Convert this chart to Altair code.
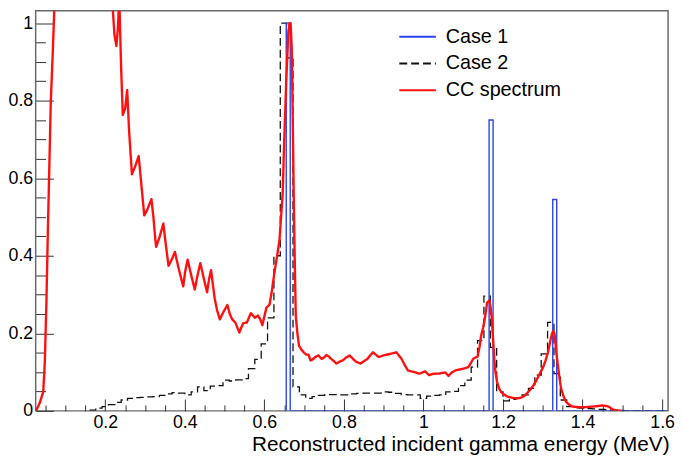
import altair as alt
import pandas as pd

FONT = "Liberation Sans"

series_names = ["Case 1", "Case 2", "CC spectrum"]
series_colors = ["#2a44ee", "#111111", "#ff1010"]
series_dash = [[1, 0], [8, 4], [1, 0]]

x_major_ticks = [0.2, 0.4, 0.6, 0.8, 1.0, 1.2, 1.4, 1.6]
x_minor_ticks = [0.05, 0.1, 0.15, 0.25, 0.3, 0.35, 0.45, 0.5, 0.55, 0.65, 0.7, 0.75,
                 0.85, 0.9, 0.95, 1.05, 1.1, 1.15, 1.25, 1.3, 1.35, 1.45, 1.5, 1.55]
y_major_ticks = [0, 0.2, 0.4, 0.6, 0.8, 1.0]
y_minor_ticks = [0.05, 0.1, 0.15, 0.25, 0.3, 0.35, 0.45, 0.5, 0.55, 0.65, 0.7, 0.75,
                 0.85, 0.9, 0.95]

# Case 1: narrow histogram bins (outline drawn as a step line)
case1_edges = [0.655, 0.655, 0.665, 1.165, 1.175, 1.325, 1.335, 1.615]
case1_values = [0.0, 1.0, 0.0, 0.75, 0.0, 0.545, 0.0, 0.0]

# Case 2: histogram with 0.016 MeV bins starting at 0.16 MeV
case2_first_edge = 0.16
case2_bin_width = 0.016
case2_values = [0.002, 0.007, 0.011, 0.016, 0.022, 0.028, 0.032, 0.034, 0.035, 0.036,
                0.037, 0.040, 0.044, 0.047, 0.046, 0.041, 0.049, 0.062, 0.052, 0.064,
                0.065, 0.079, 0.077, 0.080, 0.083, 0.109, 0.133, 0.173, 0.240, 0.400,
                1.000, 0.910, 0.062, 0.041, 0.032, 0.037, 0.040, 0.042, 0.042, 0.041,
                0.041, 0.044, 0.045, 0.046, 0.046, 0.046, 0.049, 0.048, 0.045, 0.042,
                0.041, 0.041, 0.032, 0.038, 0.040, 0.041, 0.049, 0.050, 0.065, 0.079,
                0.113, 0.181, 0.296, 0.164, 0.049, 0.026, 0.030, 0.033, 0.041, 0.058,
                0.092, 0.147, 0.228, 0.096, 0.028, 0.011, 0.008, 0.007, 0.006, 0.005,
                0.004, 0.003, 0.002, 0.001, 0.0]
case2_end = 1.615

# CC spectrum
cc_x = [0.026, 0.035, 0.044, 0.048, 0.052, 0.056, 0.060, 0.063, 0.068, 0.072, 0.078,
        0.210, 0.218, 0.223, 0.228, 0.232, 0.235, 0.240, 0.244, 0.250, 0.255, 0.260,
        0.267, 0.275, 0.284, 0.291, 0.298, 0.306, 0.316, 0.321, 0.326, 0.328, 0.337,
        0.346, 0.352, 0.359, 0.367, 0.375, 0.385, 0.396, 0.401, 0.407, 0.416, 0.425,
        0.432, 0.439, 0.448, 0.456, 0.461, 0.466, 0.470, 0.475, 0.481, 0.488, 0.497,
        0.507, 0.513, 0.519, 0.527, 0.537, 0.542, 0.547, 0.556, 0.566, 0.576, 0.584,
        0.590, 0.595, 0.605, 0.613, 0.619, 0.625, 0.632, 0.638, 0.642, 0.646, 0.650,
        0.655, 0.660, 0.663, 0.666, 0.669, 0.672, 0.674, 0.677, 0.679, 0.683, 0.687,
        0.693, 0.699, 0.705, 0.711, 0.716, 0.723, 0.728, 0.736, 0.744, 0.748, 0.756,
        0.762, 0.768, 0.775, 0.781, 0.789, 0.797, 0.805, 0.814, 0.822, 0.830, 0.842,
        0.850, 0.859, 0.866, 0.873, 0.880, 0.887, 0.894, 0.900, 0.908, 0.916, 0.924,
        0.932, 0.938, 0.945, 0.953, 0.961, 0.969, 0.977, 0.983, 0.990, 0.997, 1.004,
        1.009, 1.014, 1.022, 1.031, 1.039, 1.047, 1.055, 1.063, 1.070, 1.080, 1.092,
        1.104, 1.113, 1.120, 1.125, 1.130, 1.136, 1.141, 1.145, 1.150, 1.154, 1.160,
        1.166, 1.169, 1.172, 1.175, 1.178, 1.181, 1.185, 1.190, 1.195, 1.203, 1.211,
        1.222, 1.235, 1.245, 1.252, 1.260, 1.268, 1.276, 1.284, 1.292, 1.301, 1.307,
        1.313, 1.319, 1.323, 1.326, 1.329, 1.331, 1.334, 1.338, 1.342, 1.346, 1.352,
        1.358, 1.366, 1.375, 1.387, 1.399, 1.412, 1.424, 1.436, 1.448, 1.457, 1.465,
        1.471, 1.477, 1.488, 1.498]
cc_y = [0.0, 0.02, 0.049, 0.126, 0.279, 0.48, 0.66, 0.797, 0.924, 1.04, 1.2,
        1.2, 1.05, 0.97, 0.941, 0.99, 1.07, 0.88, 0.763, 0.78, 0.827, 0.72,
        0.610, 0.63, 0.657, 0.58, 0.504, 0.52, 0.546, 0.5, 0.44, 0.423, 0.45,
        0.483, 0.43, 0.374, 0.39, 0.41, 0.365, 0.321, 0.36, 0.39, 0.35, 0.313,
        0.35, 0.381, 0.34, 0.306, 0.34, 0.363, 0.33, 0.29, 0.26, 0.236, 0.255,
        0.273, 0.25, 0.236, 0.228, 0.202, 0.215, 0.226, 0.228, 0.252, 0.24, 0.246,
        0.235, 0.221, 0.266, 0.274, 0.31, 0.355, 0.40, 0.44, 0.50, 0.56, 0.70,
        0.85, 0.97, 1.0, 1.0, 0.93, 0.70, 0.54, 0.35, 0.245, 0.2, 0.168,
        0.158, 0.151, 0.145, 0.145, 0.130, 0.134, 0.139, 0.143, 0.134, 0.136, 0.144,
        0.14, 0.134, 0.128, 0.122, 0.127, 0.130, 0.137, 0.143, 0.135, 0.127, 0.122,
        0.128, 0.134, 0.143, 0.151, 0.145, 0.139, 0.141, 0.143, 0.145, 0.147, 0.149,
        0.151, 0.143, 0.134, 0.118, 0.104, 0.102, 0.100, 0.098, 0.096, 0.099, 0.102,
        0.097, 0.092, 0.095, 0.096, 0.096, 0.098, 0.099, 0.090, 0.098, 0.104, 0.107,
        0.110, 0.113, 0.125, 0.134, 0.137, 0.140, 0.165, 0.194, 0.215, 0.236, 0.279,
        0.285, 0.265, 0.236, 0.185, 0.134, 0.1, 0.075, 0.058, 0.049, 0.042, 0.037,
        0.034, 0.032, 0.034, 0.037, 0.045, 0.054, 0.065, 0.079, 0.095, 0.113, 0.13,
        0.151, 0.181, 0.198, 0.206, 0.2, 0.185, 0.15, 0.117, 0.085, 0.058, 0.038,
        0.024, 0.016, 0.011, 0.010, 0.009, 0.010, 0.011, 0.012, 0.014, 0.013, 0.011,
        0.007, 0.003, 0.001, 0.0]

# ---- tables ----
case2_edges = [round(case2_first_edge + i * case2_bin_width, 4) for i in range(len(case2_values))]
df1 = pd.DataFrame({"x": case1_edges, "y": case1_values, "series": "Case 1"})
df1["i"] = range(len(df1))
df2 = pd.DataFrame({"x": case2_edges + [case2_end], "y": case2_values + [0.0], "series": "Case 2"})
df2["i"] = range(len(df2))
df3 = pd.DataFrame({"x": cc_x, "y": cc_y, "series": "CC spectrum"})
df3["i"] = range(len(df3))

W, H = 640, 405

x_scale = alt.Scale(domain=[0.025, 1.615], nice=False, zero=False)
y_scale = alt.Scale(domain=[0, 1.032], nice=False, zero=False)

legend = alt.Legend(title=None, orient="none", legendX=376, legendY=16, direction="vertical",
                    symbolType="M-2,0L2,0", symbolSize=342, symbolStrokeWidth=2,
                    labelFont=FONT, labelFontSize=20, labelColor="black", labelOffset=18,
                    rowPadding=6, padding=0)

color = alt.Color("series:N", scale=alt.Scale(domain=series_names, range=series_colors), legend=legend)
dash = alt.StrokeDash("series:N", scale=alt.Scale(domain=series_names, range=series_dash), legend=legend)

common_label = dict(labelFont=FONT, labelFontSize=18, labelColor="black", tickColor="#333",
                    tickWidth=1, domain=False, grid=False, labelOverlap=False, labelFlush=False)

x_major = alt.Axis(orient="bottom", values=x_major_ticks, format="~g", offset=-12, tickSize=12,
                   labelPadding=3, title="Reconstructed incident gamma energy (MeV)",
                   titleFont=FONT, titleFontSize=21, titleFontWeight="normal", titleColor="black",
                   titleAlign="right", titleBaseline="alphabetic", titleX=W + 1, titleY=52.5,
                   **common_label)
y_major = alt.Axis(orient="left", values=y_major_ticks, format="~g", offset=-18, tickSize=18,
                   labelPadding=3, title=None, **common_label)
x_minor = alt.Axis(orient="bottom", values=x_minor_ticks, offset=-6, tickSize=6, labels=False,
                   domain=False, grid=False, title=None, tickColor="#333", tickWidth=1)
y_minor = alt.Axis(orient="left", values=y_minor_ticks, offset=-10, tickSize=10, labels=False,
                   domain=False, grid=False, title=None, tickColor="#333", tickWidth=1)

case2 = alt.Chart(df2).mark_line(interpolate="step-after", strokeWidth=1.3, clip=True,
                                 strokeCap="butt").encode(
    x=alt.X("x:Q", scale=x_scale, axis=x_major),
    y=alt.Y("y:Q", scale=y_scale, axis=y_major),
    color=color, strokeDash=dash, order=alt.Order("i:Q"))

case1 = alt.Chart(df1).mark_line(interpolate="step-after", strokeWidth=1.4, clip=True).encode(
    x=alt.X("x:Q", scale=x_scale, axis=x_minor),
    y=alt.Y("y:Q", scale=y_scale, axis=y_minor),
    color=color, strokeDash=dash, order=alt.Order("i:Q"))

cc = alt.Chart(df3).mark_line(strokeWidth=2.4, clip=True, strokeJoin="round").encode(
    x=alt.X("x:Q", scale=x_scale, axis=None),
    y=alt.Y("y:Q", scale=y_scale, axis=None),
    color=color, strokeDash=dash, order=alt.Order("i:Q"))

chart = alt.layer(case2, case1, cc).resolve_axis(x="independent", y="independent").properties(
    width=W, height=H,
    padding={"left": 28, "top": 0, "right": 7, "bottom": 45},
    autosize=alt.AutoSizeParams(type="none"),
    background="white",
).configure_view(stroke="#6a6a6a", strokeWidth=1.5)

chart.save("out.html", embed_options={"renderer": "svg", "actions": False})
